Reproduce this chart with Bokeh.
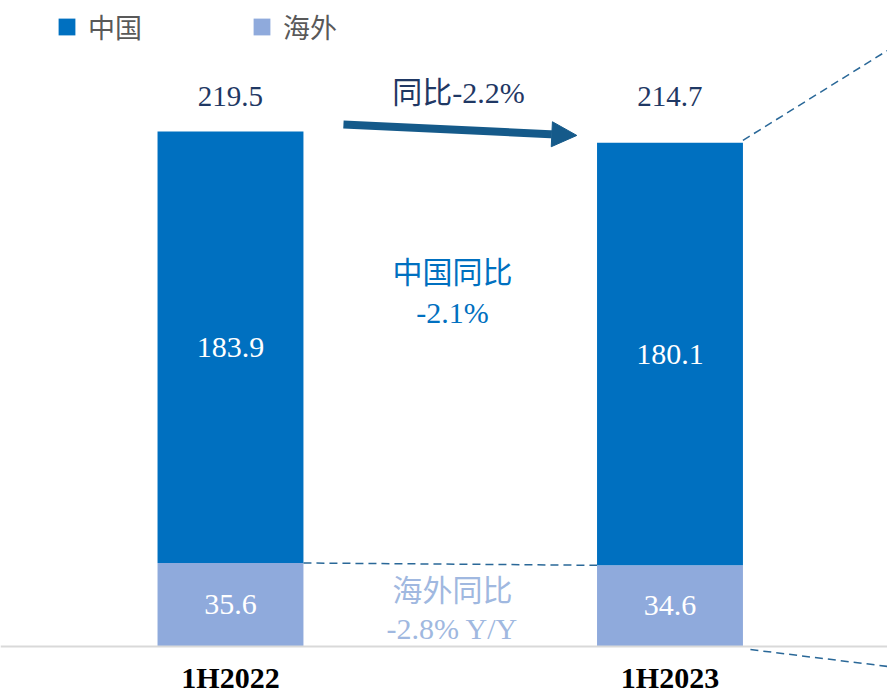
import numpy as np
from bokeh.plotting import figure
from bokeh.models import (ColumnDataSource, Range1d, Legend, LegendItem, Arrow,
                          NormalHead, Span)
from bokeh.core.properties import value
from bokeh.embed import file_html
from bokeh.resources import INLINE

# ---- data ----
categories = ["1H2022", "1H2023"]
china = [183.9, 180.1]
overseas = [35.6, 34.6]
totals = [219.5, 214.7]
total_yoy = "同比-2.2%"
china_yoy = ["中国同比", "-2.1%"]
overseas_yoy = ["海外同比", "-2.8% Y/Y"]
series_names = ["中国", "海外"]

# ---- styles ----
DARK = "#0070c0"
LIGHT = "#8faadc"
NAVY = "#1f3864"
ARROW = "#155a8a"
DASH = "#2a6898"
SERIF = value("'Liberation Serif', 'Noto Sans CJK SC'")

xs = np.arange(len(categories), dtype=float)
china_a = np.array(china)
over_a = np.array(overseas)

src = ColumnDataSource(dict(
    x=xs, cat=categories, china=china, overseas=overseas, totals=totals,
    china_mid=over_a + china_a / 2, over_mid=over_a / 2,
    china_lbl=[f"{v:.1f}" for v in china], over_lbl=[f"{v:.1f}" for v in overseas],
    tot_lbl=[f"{v:.1f}" for v in totals],
))

BAR_W = 0.332
p = figure(width=887, height=696, output_backend="svg", toolbar_location=None,
           x_range=Range1d(-0.5233, 1.4949), y_range=Range1d(-21.31, 275.3),
           min_border=0, outline_line_color=None)
p.axis.visible = False
p.grid.visible = False
p.background_fill_color = "white"

# base axis line
p.add_layout(Span(location=0, dimension="width", line_color="#d9d9d9", line_width=2))

rs = p.vbar_stack(["overseas", "china"], x="x", width=BAR_W, color=[LIGHT, DARK],
                  line_color=None, source=src)
r_over, r_china = rs

# value labels inside bars
p.text(x="x", y="china_mid", text="china_lbl", source=src, text_color="white",
       text_font=SERIF, text_font_size="30px", text_align="center", text_baseline="middle")
p.text(x="x", y="over_mid", text="over_lbl", source=src, text_color="white",
       text_font=SERIF, text_font_size="30px", text_align="center", text_baseline="middle")

# totals above bars
p.text(x="x", y=234.6, text="tot_lbl", source=src, text_color=NAVY,
       text_font=SERIF, text_font_size="29px", text_align="center", text_baseline="middle")

# category labels
p.text(x="x", y=-13.0, text="cat", source=src, text_color="black",
       text_font=SERIF, text_font_size="30px", text_font_style="bold",
       text_align="center", text_baseline="middle")

# dashed connector between overseas tops
p.line(x=[xs[0] + BAR_W / 2, xs[1] - BAR_W / 2], y=[overseas[0], overseas[1]],
       line_color=DASH, line_dash="8 5", line_width=1.5)
# lines leading off to the right
p.line(x=[xs[1] + BAR_W / 2, 1.4949], y=[totals[1] + 1, 254],
       line_color=DASH, line_dash="8 5", line_width=1.5)
p.line(x=[xs[1] + 0.183, 1.4949], y=[-1.3, -8.5],
       line_color=DASH, line_dash="8 5", line_width=1.5)

# arrow and yoy text
p.add_layout(Arrow(x_start=0.257, y_start=222.5, x_end=0.788, y_end=217.8,
                   line_color=ARROW, line_width=8,
                   end=NormalHead(size=25, fill_color=ARROW, line_color=ARROW)))
p.text(x=[0.519], y=[236.1], text=[total_yoy], text_color=NAVY, text_font=SERIF,
       text_font_size="30px", text_align="center", text_baseline="middle")

p.text(x=[0.505, 0.505], y=[159.4, 142.4], text=china_yoy, text_color=DARK,
       text_font=SERIF, text_font_size="30px", text_align="center", text_baseline="middle")
p.text(x=[0.505, 0.505], y=[23.9, 7.7], text=overseas_yoy, text_color="#a0b8e0",
       text_font=SERIF, text_font_size="30px", text_align="center", text_baseline="middle")

legend = Legend(items=[LegendItem(label=series_names[0], renderers=[r_china]),
                       LegendItem(label=series_names[1], renderers=[r_over])],
                orientation="horizontal", location=(56, 650),
                glyph_width=21, glyph_height=21, label_standoff=11, spacing=109,
                label_text_font="Noto Sans CJK SC", label_text_font_size="27px",
                label_text_color="#595959", padding=0, margin=0,
                border_line_color=None, background_fill_alpha=0)
p.add_layout(legend)

open("out.html", "w").write(file_html(p, INLINE))
